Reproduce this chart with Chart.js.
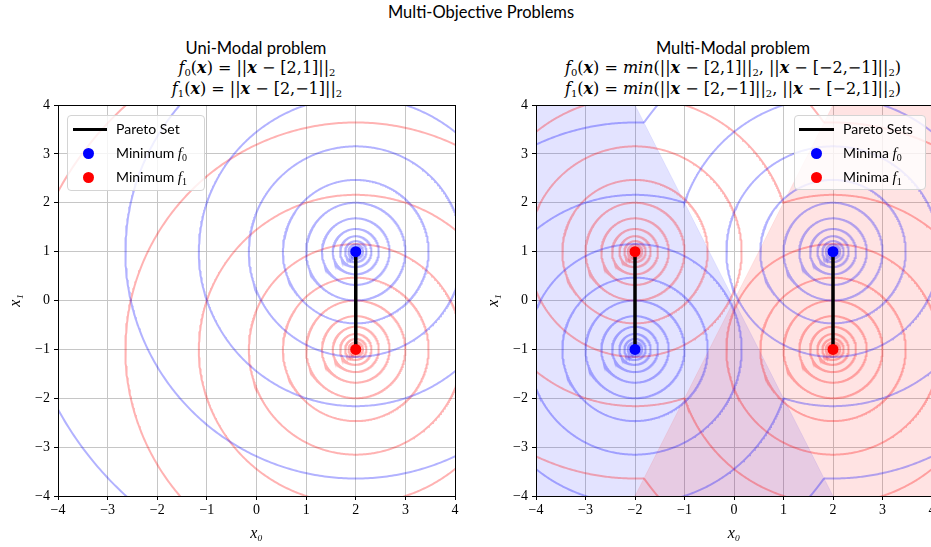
<!DOCTYPE html>
<html>
<head>
<meta charset="utf-8">
<script src="https://cdn.jsdelivr.net/npm/chart.js@4/dist/chart.umd.min.js"></script>
<style>
  html, body { margin: 0; padding: 0; background: #fff; }
  body { width: 931px; height: 547px; position: relative; overflow: hidden; }
  .txt { position: absolute; white-space: nowrap; color: #000; transform: translateX(-50%); }
  .sans { font-family: Lato, "DejaVu Sans", sans-serif; }
  .math { font-family: "DejaVu Serif", serif; font-size: 16px; }
  .math sub { font-size: 10px; vertical-align: -3px; line-height: 0; }
  .bx { font-weight: bold; font-style: italic; }
  .plot { position: absolute; top: 90px; }
  .legend { position: absolute; box-sizing: border-box; border: 1px solid #d4d4d4; border-radius: 4px;
            background: rgba(255,255,255,0.8); font-family: Lato, sans-serif; font-size: 14px; }
  .row { position: absolute; left: 0; height: 20px; line-height: 20px; }
  .swl { position: absolute; height: 3px; background: #000; top: 9px; }
  .dot { position: absolute; width: 11px; height: 11px; border-radius: 50%; top: 5px; }
  .lbl { position: absolute; top: 0; white-space: nowrap; }
  .lbl i { font-family: "Liberation Serif", serif; font-size: 15px; }
  .lbl sub { font-size: 10px; vertical-align: -3px; line-height: 0; font-family: "Liberation Serif", serif; }
</style>
</head>
<body>

<div class="txt sans" style="left:481px; top:2px; font-size:16.5px;">Multi-Objective Problems</div>

<div class="txt sans" style="left:256px; top:38px; font-size:16.5px;">Uni-Modal problem</div>
<div class="txt math" style="left:257px; top:58px;"><i>f</i><sub>0</sub>(<span class="bx">x</span>) = ||<span class="bx">x</span> − [2,1]||<sub>2</sub></div>
<div class="txt math" style="left:257px; top:79px;"><i>f</i><sub>1</sub>(<span class="bx">x</span>) = ||<span class="bx">x</span> − [2,−1]||<sub>2</sub></div>

<div class="txt sans" style="left:733px; top:38px; font-size:16.5px;">Multi-Modal problem</div>
<div class="txt math" style="left:733px; top:58px;"><i>f</i><sub>0</sub>(<span class="bx">x</span>) = <i>min</i>(||<span class="bx">x</span> − [2,1]||<sub>2</sub>, ||<span class="bx">x</span> − [−2,−1]||<sub>2</sub>)</div>
<div class="txt math" style="left:733px; top:79px;"><i>f</i><sub>1</sub>(<span class="bx">x</span>) = <i>min</i>(||<span class="bx">x</span> − [2,−1]||<sub>2</sub>, ||<span class="bx">x</span> − [−2,1]||<sub>2</sub>)</div>

<div class="plot" style="left:0px;"><canvas id="uniModal" width="470" height="457"></canvas></div>
<div class="plot" style="left:478px;"><canvas id="multiModal" width="470" height="457"></canvas></div>

<div class="legend" style="left:67px; top:115px; width:138px; height:76px;">
  <div class="row" style="top:3px;"><div class="swl" style="left:5px; width:34px;"></div><div class="lbl" style="left:48px;">Pareto Set</div></div>
  <div class="row" style="top:27px;"><div class="dot" style="left:15px; background:#0000ff;"></div><div class="lbl" style="left:48px;">Minimum <i>f</i><sub>0</sub></div></div>
  <div class="row" style="top:51px;"><div class="dot" style="left:15px; background:#ff0000;"></div><div class="lbl" style="left:48px;">Minimum <i>f</i><sub>1</sub></div></div>
</div>

<div class="legend" style="left:794px; top:115px; width:132px; height:75px;">
  <div class="row" style="top:3px;"><div class="swl" style="left:4px; width:35px;"></div><div class="lbl" style="left:48px;">Pareto Sets</div></div>
  <div class="row" style="top:27px;"><div class="dot" style="left:16px; background:#0000ff;"></div><div class="lbl" style="left:48px;">Minima <i>f</i><sub>0</sub></div></div>
  <div class="row" style="top:51px;"><div class="dot" style="left:16px; background:#ff0000;"></div><div class="lbl" style="left:48px;">Minima <i>f</i><sub>1</sub></div></div>
</div>

<script>
// contour levels of the distance functions (10^(k/6))
const levels = [0.1, 0.147, 0.215, 0.316, 0.464, 0.681, 1.0, 1.468, 2.154, 3.162, 4.642, 6.813]

// minima of each objective
const uniF0Centers = [[2, 1]]
const uniF1Centers = [[2, -1]]
const multiF0Centers = [[2, 1], [-2, -1]]
const multiF1Centers = [[2, -1], [-2, 1]]

// pareto sets (segments between the minima)
const uniPareto = [[[2, 1], [2, -1]]]
const multiPareto = [[[2, 1], [2, -1]], [[-2, -1], [-2, 1]]]

const tickValues = [-4, -3, -2, -1, 0, 1, 2, 3, 4]
const axisMin = -4, axisMax = 4

const BLUE_LINE = 'rgba(0, 0, 255, 0.3)'
const RED_LINE = 'rgba(255, 0, 0, 0.3)'
const SEGMENTS = 600

// arc of the circle around c that lies on c's side of the bisector with the other centers
function arc(c, r, others) {
    let from = 0, to = 2 * Math.PI
    for (let o of others) {
        let dx = o[0] - c[0], dy = o[1] - c[1]
        let d = Math.sqrt(dx * dx + dy * dy)
        if (r > d / 2) {
            let phi = Math.atan2(dy, dx)
            let a = Math.acos(d / (2 * r))
            from = phi + a
            to = phi + 2 * Math.PI - a
        }
    }
    let pts = []
    for (let i = 0; i <= SEGMENTS; i++) {
        let t = from + (to - from) * i / SEGMENTS
        pts.push({ x: c[0] + r * Math.cos(t), y: c[1] + r * Math.sin(t) })
    }
    return pts
}

function contourSets(centers, color) {
    let sets = []
    for (let c of centers) {
        let others = centers.filter(o => o !== c)
        for (let r of levels) {
            sets.push({
                type: 'line', data: arc(c, r, others), borderColor: color, borderWidth: 2,
                pointRadius: 0, fill: false, tension: 0, clip: 0, order: 3
            })
        }
    }
    return sets
}

function paretoSets(segments) {
    return segments.map(s => ({
        type: 'line', data: s.map(p => ({ x: p[0], y: p[1] })), borderColor: '#000', borderWidth: 3.5,
        pointRadius: 0, fill: false, clip: 0, order: 1
    }))
}

function minimaSet(centers, color) {
    return {
        type: 'scatter', data: centers.map(p => ({ x: p[0], y: p[1] })), backgroundColor: color,
        borderWidth: 0, pointRadius: 5.5, clip: 0, order: 0
    }
}

// x where the bisector of a and b crosses the horizontal line y
function bisectorX(a, b, y) {
    let mx = (a[0] + b[0]) / 2, my = (a[1] + b[1]) / 2
    let nx = b[0] - a[0], ny = b[1] - a[1]
    return mx - ny * (y - my) / nx
}

function fmt(v) {
    return v < 0 ? '\u2212' + Math.abs(v) : String(v)
}

// frame around the plotting area
const frame = {
    id: 'frame',
    afterDatasetsDraw(chart) {
        let a = chart.chartArea, ctx = chart.ctx
        ctx.save()
        ctx.strokeStyle = '#000'
        ctx.lineWidth = 1
        ctx.strokeRect(Math.round(a.left) + 0.5, Math.round(a.top) + 0.5, Math.round(a.right - a.left), Math.round(a.bottom - a.top))
        ctx.restore()
    }
}

function axes() {
    let tickFont = { family: 'Liberation Serif', size: 14 }
    let grid = { color: '#c6c6c6', lineWidth: 1, tickColor: '#000', tickLength: 4 }
    return {
        x: {
            type: 'linear', min: axisMin, max: axisMax,
            afterBuildTicks: s => { s.ticks = tickValues.map(v => ({ value: v })) },
            ticks: { callback: fmt, font: tickFont, color: '#000', padding: 2, maxRotation: 0, autoSkip: false },
            grid: grid, border: { color: '#000', width: 1 },
            title: { display: true, text: 'x\u2080', color: '#000', font: { family: 'Liberation Serif', size: 16, style: 'italic' }, padding: { top: 0, bottom: 4 } },
            afterFit: s => { s.height = 51 }
        },
        y: {
            type: 'linear', min: axisMin, max: axisMax,
            afterBuildTicks: s => { s.ticks = tickValues.map(v => ({ value: v })) },
            ticks: { callback: fmt, font: tickFont, color: '#000', padding: 4, autoSkip: false },
            grid: grid, border: { color: '#000', width: 1 },
            title: { display: true, text: 'x\u2081', color: '#000', font: { family: 'Liberation Serif', size: 16, style: 'italic' }, padding: { top: 6, bottom: 0 } },
            afterFit: s => { s.width = 58 }
        }
    }
}

function options(padRight) {
    return {
        responsive: false, animation: false, devicePixelRatio: 1, events: [],
        layout: { padding: { top: 15, right: padRight, bottom: 0, left: 0 } },
        plugins: { legend: { display: false }, tooltip: { enabled: false } },
        scales: axes()
    }
}

// uni-modal problem
new Chart(document.getElementById('uniModal'), {
    type: 'line',
    data: {
        datasets: [].concat(
            contourSets(uniF0Centers, BLUE_LINE),
            contourSets(uniF1Centers, RED_LINE),
            paretoSets(uniPareto),
            [minimaSet(uniF0Centers, '#0000ff'), minimaSet(uniF1Centers, '#ff0000')]
        )
    },
    options: options(15),
    plugins: [frame]
})

// regions where the second minimum of each objective is the closest one
let f0Top = bisectorX(multiF0Centers[0], multiF0Centers[1], axisMax)
let f0Bot = bisectorX(multiF0Centers[0], multiF0Centers[1], axisMin)
let f1Top = bisectorX(multiF1Centers[0], multiF1Centers[1], axisMax)
let f1Bot = bisectorX(multiF1Centers[0], multiF1Centers[1], axisMin)

let blueRegion = {
    type: 'line', data: [{ x: axisMin, y: axisMax }, { x: f0Top, y: axisMax }, { x: f0Bot, y: axisMin }],
    borderColor: 'rgba(0, 0, 255, 0.08)', borderWidth: 1, backgroundColor: 'rgba(0, 0, 255, 0.11)',
    fill: 'start', pointRadius: 0, tension: 0, clip: 0, order: 5
}
let redRegion = {
    type: 'line', data: [{ x: f1Bot, y: axisMin }, { x: f1Top, y: axisMax }, { x: axisMax, y: axisMax }],
    borderColor: 'rgba(255, 0, 0, 0.08)', borderWidth: 1, backgroundColor: 'rgba(255, 0, 0, 0.11)',
    fill: 'start', pointRadius: 0, tension: 0, clip: 0, order: 4
}

// multi-modal problem
new Chart(document.getElementById('multiModal'), {
    type: 'line',
    data: {
        datasets: [].concat(
            [blueRegion, redRegion],
            contourSets(multiF0Centers, BLUE_LINE),
            contourSets(multiF1Centers, RED_LINE),
            paretoSets(multiPareto),
            [minimaSet(multiF0Centers, '#0000ff'), minimaSet(multiF1Centers, '#ff0000')]
        )
    },
    options: options(16),
    plugins: [frame]
})
</script>
</body>
</html>
